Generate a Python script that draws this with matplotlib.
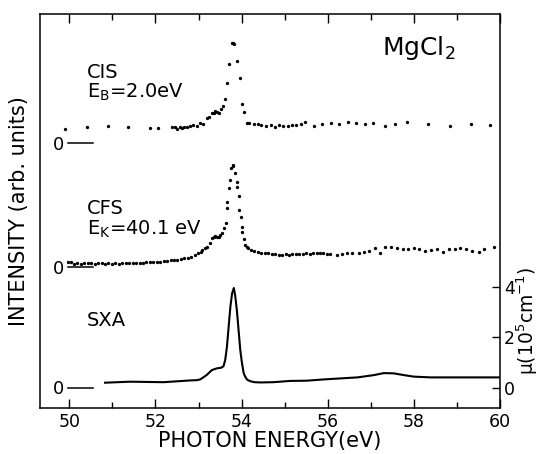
import numpy as np
import matplotlib
matplotlib.use("Agg")
import matplotlib.pyplot as plt

plt.rcParams["mathtext.default"] = "regular"

# --- data ---
# CIS, E_B = 2.0 eV (arb. units, relative to its own zero)
cis_e = [49.90, 50.41, 50.91, 51.37, 51.88, 52.07, 52.38, 52.45, 52.50, 52.56,
         52.61, 52.67, 52.73, 52.80, 52.88, 52.96, 53.04, 53.10, 53.20, 53.25,
         53.31, 53.35, 53.38, 53.42, 53.47, 53.53, 53.57, 53.62, 53.67, 53.71,
         53.77, 53.80, 53.83, 53.90, 53.96, 54.02, 54.06, 54.12, 54.18, 54.28,
         54.37, 54.46, 54.57, 54.68, 54.78, 54.87, 54.97, 55.07, 55.17, 55.26,
         55.37, 55.47, 55.68, 55.87, 56.08, 56.27, 56.47, 56.66, 56.86, 57.06,
         57.34, 57.56, 57.84, 58.33, 58.84, 59.32, 59.77]
cis_i = [0.57, 0.63, 0.69, 0.63, 0.62, 0.62, 0.66, 0.64, 0.58, 0.63,
         0.62, 0.64, 0.66, 0.68, 0.72, 0.70, 0.79, 0.77, 0.99, 1.03,
         1.22, 1.19, 1.27, 1.25, 1.22, 1.37, 1.48, 1.75, 2.40, 3.14,
         3.96, 3.97, 3.95, 3.27, 2.60, 1.55, 1.25, 0.82, 0.82, 0.75,
         0.75, 0.72, 0.68, 0.72, 0.66, 0.72, 0.68, 0.68, 0.72, 0.72,
         0.77, 0.84, 0.70, 0.76, 0.82, 0.76, 0.83, 0.79, 0.76, 0.79,
         0.67, 0.78, 0.83, 0.75, 0.69, 0.78, 0.74]

# CFS, E_K = 40.1 eV
cfs_e = [49.98, 50.05, 50.12, 50.19, 50.27, 50.35, 50.43, 50.51, 50.59, 50.67, 50.75,
         50.83, 50.91, 50.99, 51.07, 51.15, 51.23, 51.31, 51.39, 51.47, 51.55,
         51.63, 51.71, 51.79, 51.87, 51.95, 52.03, 52.11, 52.19, 52.27, 52.35,
         52.43, 52.51, 52.59, 52.67, 52.75, 52.83, 52.91, 52.99, 53.05,
         53.08, 53.14, 53.20, 53.26, 53.31, 53.35, 53.39, 53.43, 53.47, 53.51,
         53.54, 53.60, 53.64, 53.66, 53.67, 53.70, 53.72, 53.75, 53.79, 53.81,
         53.85, 53.89, 53.90, 53.93, 53.95, 53.98, 54.01, 54.02, 54.05, 54.08,
         54.12, 54.16,
         54.22, 54.30, 54.38, 54.46, 54.54, 54.62, 54.70, 54.78, 54.86, 54.94,
         55.02, 55.10, 55.18, 55.26, 55.34, 55.42, 55.50, 55.58, 55.66, 55.74,
         55.82, 55.90, 55.98, 56.05,
         56.22, 56.33, 56.45, 56.57, 56.73, 56.84, 56.96, 57.09, 57.22, 57.34,
         57.46, 57.62, 57.75, 57.87, 58.00, 58.13, 58.26, 58.39, 58.53, 58.68,
         58.82, 58.95, 59.07, 59.22, 59.36, 59.51, 59.63, 59.85]
cfs_i = [0.20, 0.21, 0.15, 0.17, 0.15, 0.18, 0.16, 0.17, 0.15, 0.17, 0.16,
         0.15, 0.16, 0.14, 0.16, 0.15, 0.17, 0.16, 0.17, 0.18, 0.17,
         0.19, 0.18, 0.20, 0.20, 0.21, 0.22, 0.22, 0.24, 0.25, 0.27,
         0.28, 0.30, 0.32, 0.35, 0.38, 0.42, 0.47, 0.55, 0.62,
         0.69, 0.76, 0.82, 0.98, 1.15, 1.20, 1.24, 1.20, 1.19, 1.27,
         1.35, 1.54, 1.74, 2.34, 2.60, 3.13, 3.46, 3.92, 4.02, 4.05,
         3.75, 3.37, 3.19, 2.82, 2.27, 1.98, 1.58, 1.41, 1.11, 0.88,
         0.80, 0.75,
         0.70, 0.64, 0.61, 0.58, 0.56, 0.55, 0.53, 0.52, 0.50, 0.50,
         0.51, 0.50, 0.52, 0.53, 0.54, 0.53, 0.55, 0.54, 0.56, 0.55,
         0.56, 0.55, 0.54, 0.53,
         0.49, 0.51, 0.55, 0.58, 0.55, 0.62, 0.65, 0.75, 0.58, 0.82,
         0.79, 0.78, 0.71, 0.72, 0.75, 0.71, 0.65, 0.69, 0.72, 0.62,
         0.71, 0.72, 0.78, 0.71, 0.65, 0.61, 0.71, 0.80]

# SXA absorption coefficient mu (10^5 cm^-1)
sxa_e = [50.83, 51.41, 52.19, 52.81, 52.96, 53.04, 53.12, 53.20, 53.31, 53.43,
         53.52, 53.58, 53.62, 53.66, 53.70, 53.74, 53.78, 53.82, 53.85, 53.89,
         53.93, 53.97, 54.01, 54.05, 54.09, 54.13, 54.20, 54.30, 54.43, 54.74,
         55.13, 55.52, 55.91, 56.30, 56.69, 57.07, 57.30, 57.53, 57.77, 58.00,
         58.39, 59.00, 60.00]
sxa_mu = [0.20, 0.24, 0.22, 0.29, 0.30, 0.33, 0.42, 0.52, 0.70, 0.77,
          0.79, 0.85, 1.10, 1.62, 2.42, 3.21, 3.74, 3.95, 3.67, 3.08,
          2.29, 1.49, 0.97, 0.57, 0.42, 0.32, 0.26, 0.22, 0.21, 0.22,
          0.27, 0.28, 0.33, 0.37, 0.41, 0.50, 0.58, 0.57, 0.50, 0.44,
          0.41, 0.41, 0.41]

# vertical offsets of the stacked spectra
cis_off = 9.68
cfs_off = 4.77
sxa_off = 0.0

fig = plt.figure(figsize=(5.4, 4.54), dpi=100)
ax = fig.add_axes([0.0741, 0.102, 0.8518, 0.867])

ax.plot(sxa_e, np.array(sxa_mu) + sxa_off, color="black", lw=1.5)
ax.plot(cfs_e, np.array(cfs_i) + cfs_off, "o", color="black", ms=2.4, mew=0)
ax.plot(cis_e, np.array(cis_i) + cis_off, "o", color="black", ms=2.4, mew=0)

# zero markers
for off in (cis_off, cfs_off, sxa_off):
    ax.plot([49.97, 50.55], [off, off], color="black", lw=1.1)
    ax.text(49.89, off - 0.05, "0", fontsize=13, ha="right", va="center")

ax.set_xlim(49.32, 60)
ax.set_ylim(-0.79, 14.8)

ax.set_xticks(np.arange(50, 61, 2))
ax.set_xticks(np.arange(50, 61, 1), minor=True)
ax.tick_params(axis="x", which="both", direction="in", top=True, labelsize=12.5)
ax.tick_params(axis="x", which="major", length=6.5, width=1.0)
ax.tick_params(axis="x", which="minor", length=4, width=1.0)

ax.yaxis.tick_right()
ax.set_yticks([0, 2, 4])
ax.tick_params(axis="y", direction="in", length=6, width=1.0, labelsize=12.5, pad=3)

for s in ax.spines.values():
    s.set_linewidth(1.1)

ax.set_xlabel("PHOTON ENERGY(eV)", fontsize=15, labelpad=0)
fig.text(0.035, 0.535, "INTENSITY (arb. units)", rotation=90, fontsize=15,
         ha="center", va="center")
fig.text(0.977, 0.293, r"$\mu$(10$^5$cm$^{-1}$)", rotation=90, fontsize=13.5,
         ha="center", va="center")

ax.text(57.27, 13.17, "MgCl$_2$", fontsize=18, ha="left", va="baseline")
ax.text(50.4, 12.28, "CIS", fontsize=14, ha="left", va="baseline")
ax.text(50.4, 11.5, "E$_\\mathrm{B}$=2.0eV", fontsize=14, ha="left", va="baseline")
ax.text(50.4, 6.88, "CFS", fontsize=14, ha="left", va="baseline")
ax.text(50.4, 6.08, "E$_\\mathrm{K}$=40.1 eV", fontsize=14, ha="left", va="baseline")
ax.text(50.4, 2.44, "SXA", fontsize=14, ha="left", va="baseline")

fig.savefig("out.png", dpi=100)
